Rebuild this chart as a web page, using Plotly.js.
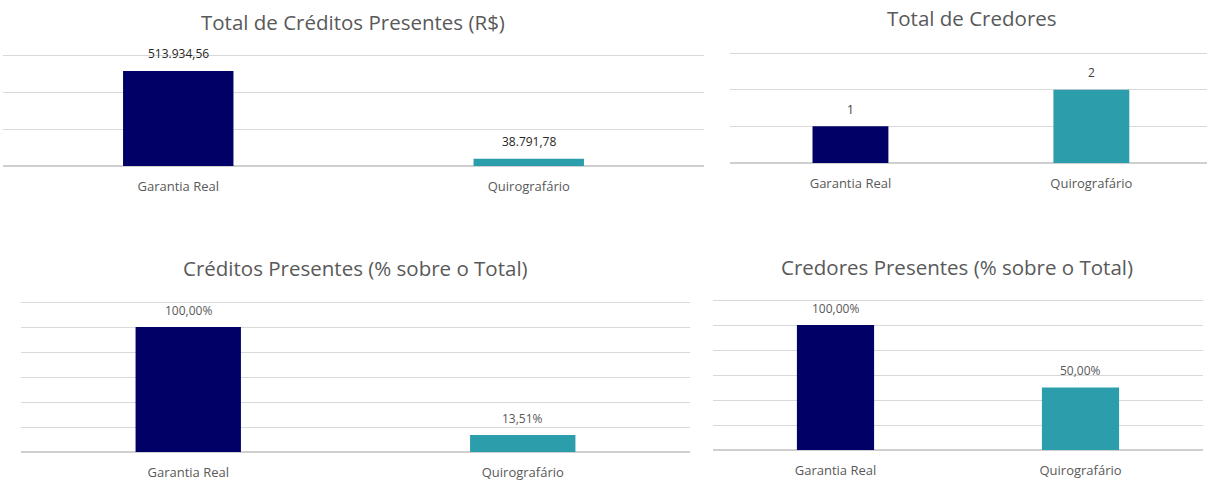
<!DOCTYPE html>
<html>
<head>
<meta charset="utf-8">
<script src="https://cdn.plot.ly/plotly-3.0.1.min.js"></script>
<style>html,body{margin:0;padding:0;background:#fff;}#chart{width:1207px;height:482px;}</style>
</head>
<body>
<div id="chart"></div>
<script>
// ---- data ----
const categories = ["Garantia Real", "Quirografário"];
const creditosValores = [513934.56, 38791.78];
const creditosLabels = ["513.934,56", "38.791,78"];
const credoresValores = [1, 2];
const credoresLabels = ["1", "2"];
const creditosPct = [100.00, 13.51];
const creditosPctLabels = ["100,00%", "13,51%"];
const credoresPct = [100.00, 50.00];
const credoresPctLabels = ["100,00%", "50,00%"];
const titles = ["Total de Créditos Presentes (R$)", "Total de Credores",
                "Créditos Presentes (% sobre o Total)", "Credores Presentes (% sobre o Total)"];
const barColors = ["#000066", "#2b9dab"];

const W = 1207, H = 482;
const FONT = "'Open Sans', Lato, sans-serif";
const GRAY = "#595959";

const panels = [
  {x: "x", y: "y", vals: creditosValores, labels: creditosLabels, labelColor: "#262626",
   xd: [3, 704], yd: [166, 55], yr: [0, 600000], dt: 200000, xr: [-0.5, 1.5]},
  {x: "x2", y: "y2", vals: credoresValores, labels: credoresLabels, labelColor: "#404040",
   xd: [730, 1207], yd: [163, 53], yr: [0, 3], dt: 1, xr: [-0.5, 1.48]},
  {x: "x3", y: "y3", vals: creditosPct, labels: creditosPctLabels, labelColor: GRAY,
   xd: [21, 690], yd: [452, 302], yr: [0, 120], dt: 20, xr: [-0.5, 1.5]},
  {x: "x4", y: "y4", vals: credoresPct, labels: credoresPctLabels, labelColor: GRAY,
   xd: [713, 1203], yd: [450, 300], yr: [0, 120], dt: 20, xr: [-0.5, 1.5]}
];
const titlePos = [[353, 22], [972, 18], [355, 268], [957, 267]];

const data = [];
const layout = {
  width: W, height: H, margin: {l: 0, r: 0, t: 0, b: 0},
  paper_bgcolor: "#fff", plot_bgcolor: "#fff",
  showlegend: false, font: {family: FONT, color: GRAY},
  annotations: []
};

panels.forEach((p, i) => {
  data.push({
    type: "bar", x: categories, y: p.vals, xaxis: p.x, yaxis: p.y,
    width: 0.315, marker: {color: barColors}, hoverinfo: "skip", cliponaxis: false
  });
  const xk = "xaxis" + (i ? i + 1 : "");
  const yk = "yaxis" + (i ? i + 1 : "");
  // small headroom so the top gridline is drawn
  const top = p.yr[1] * 1.01;
  const pxTop = p.yd[0] - (p.yd[0] - p.yd[1]) * 1.01;
  layout[xk] = {
    domain: [p.xd[0] / W, p.xd[1] / W], anchor: p.y, range: p.xr,
    showgrid: false, zeroline: false, showline: false,
    ticks: "outside", ticklen: 8, tickcolor: "rgba(0,0,0,0)",
    tickfont: {family: FONT, size: 13, color: GRAY}, fixedrange: true
  };
  layout[yk] = {
    domain: [1 - p.yd[0] / H, 1 - pxTop / H], anchor: p.x, range: [0, top],
    dtick: p.dt, tick0: 0, showticklabels: false, showgrid: true,
    gridcolor: "#d9d9d9", gridwidth: 1,
    zeroline: true, zerolinecolor: "#cfcfcf", zerolinewidth: 2,
    showline: false, fixedrange: true
  };
  categories.forEach((c, j) => {
    layout.annotations.push({
      xref: p.x, yref: p.y, x: c, y: p.vals[j], text: p.labels[j],
      showarrow: false, yanchor: "middle", yshift: 17,
      font: {family: FONT, size: 12, color: p.labelColor}
    });
  });
  layout.annotations.push({
    xref: "paper", yref: "paper", x: titlePos[i][0] / W, y: 1 - titlePos[i][1] / H,
    xanchor: "center", yanchor: "middle", text: titles[i], showarrow: false,
    font: {family: FONT, size: 20.5, color: GRAY}
  });
});

Plotly.newPlot("chart", data, layout, {staticPlot: true, displayModeBar: false});
</script>
</body>
</html>
